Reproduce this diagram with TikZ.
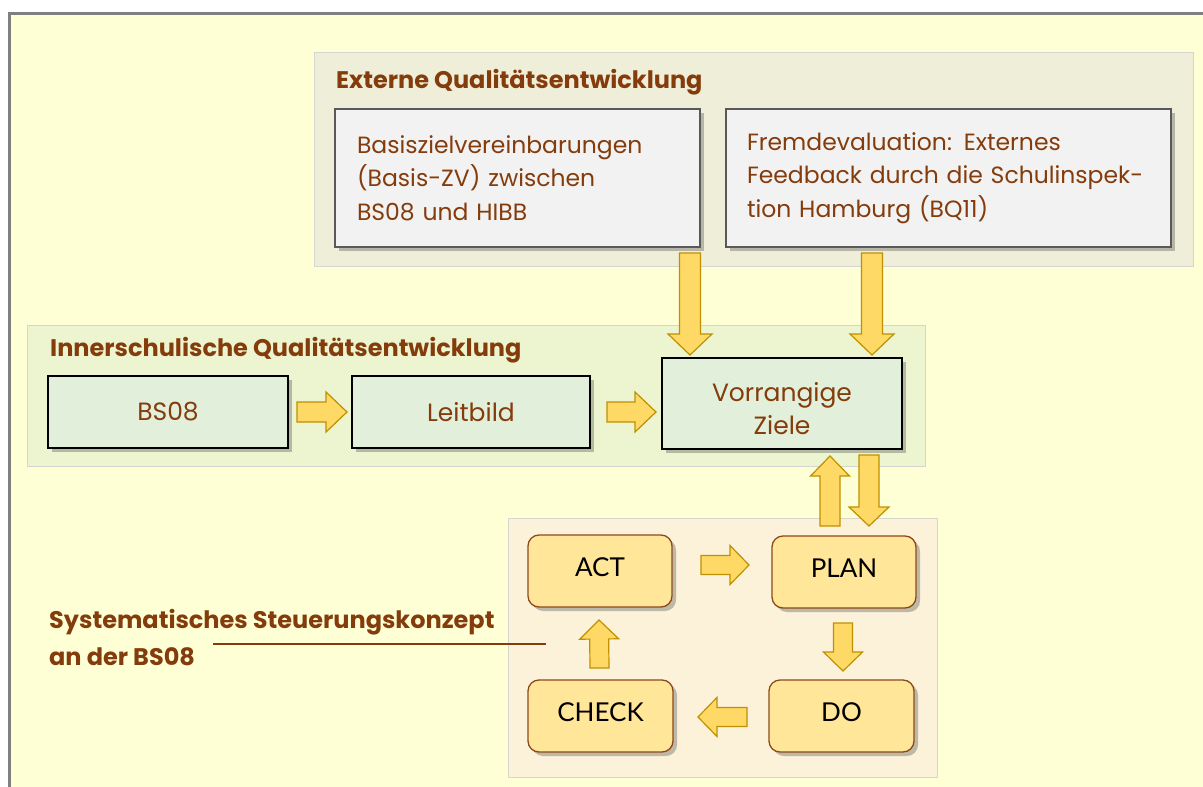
\documentclass[tikz,border=0pt]{standalone}
\usepackage{fontspec}
\setmainfont{Poppins}
\newfontfamily\pdcafont{Lato}
\usetikzlibrary{calc,shadows}
\definecolor{brn}{HTML}{843C0C}
\definecolor{outerfill}{HTML}{FFFFD5}
\definecolor{outerline}{HTML}{808080}
\definecolor{panelline}{HTML}{D6D6D0}
\definecolor{extfill}{HTML}{EFEED8}
\definecolor{innfill}{HTML}{ECF5CF}
\definecolor{pdcafill}{HTML}{FCF2DA}
\definecolor{grayfill}{HTML}{F2F2F2}
\definecolor{grayline}{HTML}{595959}
\definecolor{greenfill}{HTML}{E2EFDA}
\definecolor{pdcabox}{HTML}{FFE699}
\definecolor{pdcaline}{HTML}{8C4A1A}
\definecolor{arrfill}{HTML}{FFD966}
\definecolor{arrline}{HTML}{BF9000}
\tikzset{
  panel/.style={draw=panelline, line width=1pt, anchor=north west, inner sep=0pt, outer sep=0pt},
  shad/.style={drop shadow={shadow xshift=4pt, shadow yshift=-4pt, opacity=0.35, fill=black!70}},
  graybox/.style={shad, draw=grayline, fill=grayfill, line width=2pt, anchor=north west, inner sep=0pt, outer sep=0pt,
     font=\fontsize{23.5}{33.5}\selectfont, text=brn, align=left},
  greenbox/.style={shad, draw=black, fill=greenfill, line width=2pt, anchor=north west, inner sep=0pt, outer sep=0pt,
     font=\fontsize{25}{33}\selectfont, text=brn, align=center},
  boxtext/.style={inner sep=0pt, font=\fontsize{25}{33}\selectfont, text=brn, align=center},
  pdcanode/.style={shad, draw=pdcaline, fill=pdcabox, line width=1.3pt, rounded corners=11pt, anchor=north west,
     inner sep=0pt, outer sep=0pt, font=\pdcafont\fontsize{26}{30}\selectfont, text=black,
     text height=19pt, text depth=8pt},
  ttl/.style={anchor=base west, inner sep=0pt, text=brn, font=\bfseries\fontsize{24}{37}\selectfont, align=left},
  barr/.style={draw=arrline, fill=arrfill, line width=1.2pt, line join=miter},
}
% block arrow: tail, tip, half body width, half head width, head length
\newcommand\barrow[5]{%
\draw[barr] let \p1=#1, \p2=#2, \n1={veclen(\x2-\x1,\y2-\y1)}, \n2={(\x2-\x1)/\n1}, \n3={(\y2-\y1)/\n1}, \n4={\n1-#5} in
 ({\x1-#3*\n3},{\y1+#3*\n2}) -- ({\x1+\n4*\n2-#3*\n3},{\y1+\n4*\n3+#3*\n2}) --
 ({\x1+\n4*\n2-#4*\n3},{\y1+\n4*\n3+#4*\n2}) -- (\x2,\y2) --
 ({\x1+\n4*\n2+#4*\n3},{\y1+\n4*\n3-#4*\n2}) -- ({\x1+\n4*\n2+#3*\n3},{\y1+\n4*\n3-#3*\n2}) --
 ({\x1+#3*\n3},{\y1-#3*\n2}) -- cycle;}
\begin{document}
\begin{tikzpicture}[x=1pt,y=-1pt]
\useasboundingbox (0,0) rectangle (1203,787);
\begin{scope}
\clip (0,0) rectangle (1203,787);
\draw[outerline, fill=outerfill, line width=3pt] (9.5,13.5) rectangle (1230,810);
\end{scope}
% panels
\node[panel, fill=extfill, minimum width=879, minimum height=214] (ext) at (314,52) {};
\node[panel, fill=innfill, minimum width=898, minimum height=141] (inn) at (27,325) {};
\node[panel, fill=pdcafill, minimum width=429, minimum height=259] (pdca) at (508,518) {};
% titles
\node[ttl] (exttitle) at (336,88) {Externe Qualitätsentwicklung};
\node[ttl] (inntitle) at (50,356) {Innerschulische Qualitätsentwicklung};
\node[ttl] (sysl) at (49,665) {Systematisches Steuerungskonzept\\an der BS08};
% external boxes
\node[graybox, minimum width=365, minimum height=138, text width=321] (b1) at (335,109)
  {Basiszielvereinbarungen\\(Basis-ZV) zwischen\\BS08 und HIBB};
\node[graybox, minimum width=445, minimum height=138, text width=403] (b2) at (726,109)
  {Fremdevaluation: Externes\\Feedback durch die Schulinspek-\\tion Hamburg (BQ11)};
% inner boxes
\node[greenbox, minimum width=240, minimum height=72] (bs) at (48,376) {BS08};
\node[greenbox, minimum width=238, minimum height=72] (lb) at (352,376) {Leitbild};
\node[greenbox, minimum width=240, minimum height=91] (vz) at (662,358) {};
\node[boxtext] (vzt) at ($(vz.center)+(0,5)$) {Vorrangige\\Ziele};
% PDCA
\node[pdcanode, minimum width=144, minimum height=72] (act) at (528,535) {ACT};
\node[pdcanode, minimum width=144, minimum height=72] (pl) at (772,536) {PLAN};
\node[pdcanode, minimum width=145, minimum height=72] (ch) at (528,680) {CHECK};
\node[pdcanode, minimum width=145, minimum height=72] (do) at (769,680) {DO};
% callout line
\coordinate (ls) at (213,644);
\coordinate (le) at (546,644);
\draw[brn, line width=1.3pt] (ls) -- (le);
% block arrows
\barrow{($(b1.south east)+(-10,6)$)}{($(vz.north west)+(28,-3)$)}{10.5}{22}{21}
\barrow{($(b2.south west)+(146,6)$)}{($(vz.north east)+(-30,-3)$)}{10.5}{22}{21}
\barrow{($(bs.east)+(9,0)$)}{($(lb.west)+(-5,0)$)}{10}{20}{21}
\barrow{($(lb.east)+(17,0)$)}{($(vz.west |- lb.east)+(-6,0)$)}{10}{20}{21}
\barrow{($(pl.north west)+(58,-10)$)}{($(vz.south west)+(168,7)$)}{10}{19.5}{20}
\barrow{($(vz.south west)+(207,6)$)}{($(pl.north west)+(97,-10)$)}{10}{20}{19}
\barrow{($(act.east)+(29,-6)$)}{($(pl.west |- act.east)+(-23,-6)$)}{9.5}{19.5}{19}
\barrow{($(pl.south)+(-1,15)$)}{($(pl.south |- do.north)+(-1,-9)$)}{9.5}{19.5}{19}
\barrow{($(do.west)+(-22,1)$)}{($(ch.east |- do.west)+(25,1)$)}{9.5}{19.5}{19}
\barrow{($(ch.north)+(-1,-12)$)}{($(act.south)+(-1,13)$)}{9.5}{19.5}{19}
\end{tikzpicture}
\end{document}
